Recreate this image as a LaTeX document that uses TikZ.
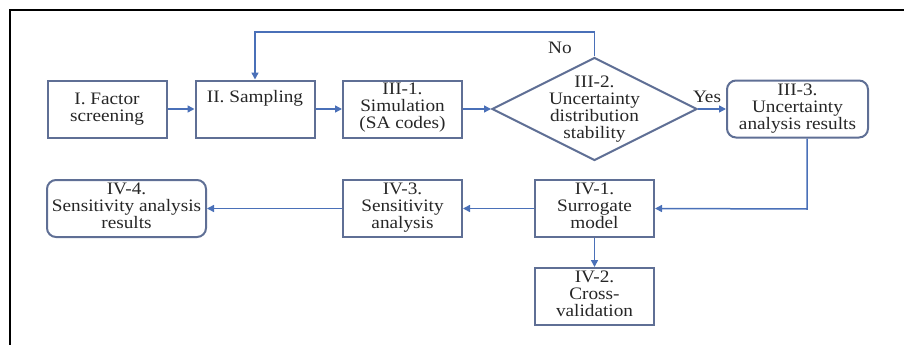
\documentclass[tikz,border=0pt]{standalone}
\usepackage{fontspec}
\setmainfont[FakeStretch=1.1]{Liberation Serif}
\usetikzlibrary{arrows.meta,shapes.geometric}
\definecolor{boxline}{HTML}{5F6F95}
\definecolor{flow}{HTML}{4A70B8}
\begin{document}
\begin{tikzpicture}[x=1pt,y=-1pt,
  every node/.style={font=\fontsize{17.5pt}{17pt}\selectfont, align=center, inner sep=0pt, text=black!85},
  stepbox/.style={draw=boxline, line width=2pt, rectangle, minimum width=119pt, minimum height=57pt},
  resultbox/.style={draw=boxline, line width=2pt, rectangle, rounded corners=9pt, minimum height=57pt},
  decision/.style={draw=boxline, line width=2pt, diamond, inner sep=-20pt, minimum width=205pt, minimum height=103pt},
  flowarrow/.style={draw=flow, line width=1.5pt, -{Triangle[length=7pt,width=7pt]}},
  tag/.style={font=\fontsize{17.5pt}{17pt}\selectfont}
]
\useasboundingbox (0,0) rectangle (904,345);
% page frame
\draw[line width=2pt] (10,345) -- (10,10) -- (904,10);

% first row
\node[stepbox] (factor) at (107,109) {I. Factor\\screening};
\node[stepbox] (sampling) at (255,109) {II. Sampling\\[4pt]\strut};
\node[stepbox, text depth=6pt] (simulation) at (402.5,109) {III-1.\\Simulation\\(SA codes)};
\node[decision] (stability) at (594.5,109) {III-2.\\Uncertainty\\distribution\\stability};
\node[resultbox, minimum width=141pt] (uaresults) at (797.5,109) {III-3.\\Uncertainty\\analysis\ results};

% second row
\node[stepbox, text depth=6pt] (surrogate) at (594.5,208.5) {IV-1.\\Surrogate\\model};
\node[stepbox, text depth=6pt] (sensitivity) at (402.5,208.5) {IV-3.\\Sensitivity\\analysis};
\node[resultbox, minimum width=159pt, text depth=6pt] (saresults) at (126.5,208.5) {IV-4.\\Sensitivity\ analysis\\results};
\node[stepbox, text depth=6pt] (crossval) at (594.5,296.5) {IV-2.\\Cross-\\validation};

% connectors
\draw[flowarrow] (factor) -- (sampling);
\draw[flowarrow] (sampling) -- (simulation);
\draw[flowarrow] (simulation) -- (stability.west);
\draw[flowarrow] (stability.east) -- (uaresults);
\coordinate (loopR) at (594.5,32);
\coordinate (loopL) at (255,32);
\draw[flowarrow] (stability.north) -- (loopR) -- (loopL) -- (sampling.north);
\coordinate (downR) at (807,209);
\draw[flowarrow] (uaresults.south -| downR) -- (downR) -- (surrogate.east);
\draw[flowarrow] (surrogate) -- (sensitivity);
\draw[flowarrow] (sensitivity) -- (saresults);
\draw[flowarrow] (surrogate) -- (crossval);

% branch labels
\node[tag] (nolabel) at (560,48) {No};
\node[tag] (yeslabel) at (707,97) {Yes};
\end{tikzpicture}
\end{document}
